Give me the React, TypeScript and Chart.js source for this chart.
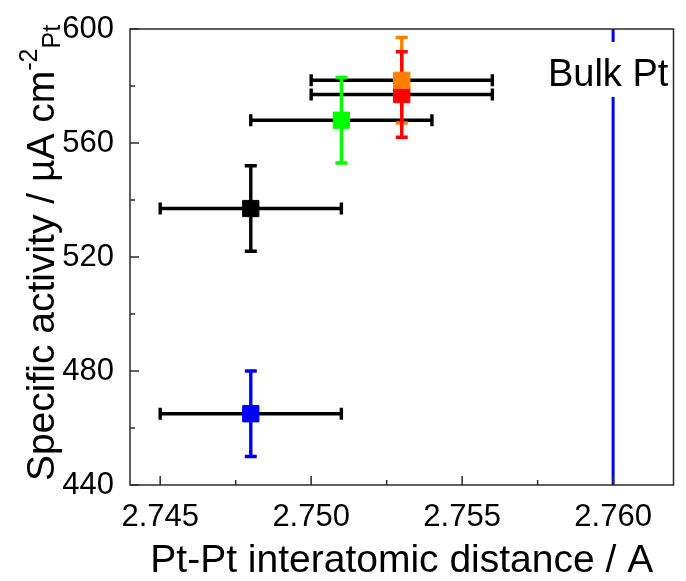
import React, { useEffect, useRef } from "react";
import { Chart, registerables } from "chart.js";

Chart.register(...registerables);

// ---- data ----
const seriesNames = ["S1", "S2", "S3", "S4", "S5"];
const xValues = [2.748, 2.748, 2.751, 2.753, 2.753];
const yValues = [537, 465, 568, 577, 582];
const xErrors = [0.003, 0.003, 0.003, 0.003, 0.003];
const yErrors = [15, 15, 15, 15, 15];
const seriesColors = ["#000000", "#0000ff", "#00ff00", "#ff0000", "#ff8000"];

const bulkX = 2.76;
const bulkLabel = "Bulk Pt";

const xMin = 2.744;
const xMax = 2.762;
const yMin = 440;
const yMax = 600;
const xTickValues = [2.745, 2.75, 2.755, 2.76];
const xTickLabels = ["2.745", "2.750", "2.755", "2.760"];
const xMinorTicks = [2.7475, 2.7525, 2.7575];
const yTickValues = [440, 480, 520, 560, 600];
const yTickLabels = ["440", "480", "520", "560", "600"];
const yMinorTicks = [460, 500, 540, 580];

const xTitle = "Pt-Pt interatomic distance / A";
const yTitleMain = "Specific activity / µA cm";
const yTitleSup = "-2";
const yTitleSub = "Pt";

const FONT = '"Liberation Sans", Arial, Helvetica, sans-serif';

const decorPlugin = {
  id: "decor",
  afterDatasetsDraw(chart: any) {
    const { ctx, chartArea: a, scales } = chart;
    const xs = scales.x;
    const ys = scales.y;
    ctx.save();
    // Bulk label with white box
    ctx.font = `38px ${FONT}`;
    const w = ctx.measureText(bulkLabel).width;
    const cx = xs.getPixelForValue(bulkX) - 5;
    ctx.fillStyle = "#ffffff";
    ctx.fillRect(cx - w / 2 - 2, a.top + 13, w + 4, 55);
    ctx.fillStyle = "#000000";
    ctx.textAlign = "center";
    ctx.textBaseline = "alphabetic";
    ctx.fillText(bulkLabel, cx, a.top + 57);

    // frame
    ctx.strokeStyle = "#2b2b2b";
    ctx.lineWidth = 1.5;
    ctx.strokeRect(a.left, a.top, a.right - a.left, a.bottom - a.top);

    // inward ticks
    ctx.beginPath();
    xTickValues.forEach((v) => {
      const p = xs.getPixelForValue(v);
      ctx.moveTo(p, a.bottom);
      ctx.lineTo(p, a.bottom - 9);
    });
    xMinorTicks.forEach((v) => {
      const p = xs.getPixelForValue(v);
      ctx.moveTo(p, a.bottom);
      ctx.lineTo(p, a.bottom - 5);
    });
    yTickValues.forEach((v) => {
      const p = ys.getPixelForValue(v);
      ctx.moveTo(a.left, p);
      ctx.lineTo(a.left + 9, p);
    });
    yMinorTicks.forEach((v) => {
      const p = ys.getPixelForValue(v);
      ctx.moveTo(a.left, p);
      ctx.lineTo(a.left + 5, p);
    });
    ctx.stroke();
    ctx.restore();
  },
  afterDraw(chart: any) {
    const { ctx, chartArea: a } = chart;
    ctx.save();
    const yc = (a.top + a.bottom) / 2 - 4;
    const x0 = 54;
    ctx.translate(x0, yc);
    ctx.rotate(-Math.PI / 2);
    ctx.fillStyle = "#000000";
    ctx.textAlign = "left";
    ctx.textBaseline = "alphabetic";
    const mainFont = `39px ${FONT}`;
    const smallFont = `25px ${FONT}`;
    ctx.font = mainFont;
    const wMain = ctx.measureText(yTitleMain).width;
    ctx.font = smallFont;
    const wSup = ctx.measureText(yTitleSup).width;
    const wSub = ctx.measureText(yTitleSub).width;
    const total = wMain + wSup + wSub;
    let pos = -total / 2;
    ctx.font = mainFont;
    ctx.fillText(yTitleMain, pos, 0);
    pos += wMain;
    ctx.font = smallFont;
    ctx.fillText(yTitleSup, pos, -17);
    pos += wSup;
    ctx.fillText(yTitleSub, pos, 6);
    ctx.restore();
  },
};

export default function App() {
  const canvasRef = useRef<HTMLCanvasElement | null>(null);

  useEffect(() => {
    const canvas = canvasRef.current;
    if (!canvas) return;

    const hBars = xValues.map((x, i) => ({
      label: seriesNames[i] + " x-err",
      data: [
        { x: x - xErrors[i], y: yValues[i] },
        { x: x + xErrors[i], y: yValues[i] },
      ],
      showLine: true,
      borderColor: "#000000",
      borderWidth: 3.4,
      pointStyle: "line",
      pointRotation: 90,
      pointRadius: 6,
      pointHoverRadius: 6,
      pointBorderWidth: 3.4,
      pointBorderColor: "#000000",
      order: 2,
    }));

    const vBars = xValues.map((x, i) => ({
      label: seriesNames[i] + " y-err",
      data: [
        { x, y: yValues[i] - yErrors[i] },
        { x, y: yValues[i] + yErrors[i] },
      ],
      showLine: true,
      borderColor: seriesColors[i],
      borderWidth: 3.4,
      pointStyle: "line",
      pointRotation: 0,
      pointRadius: 6,
      pointHoverRadius: 6,
      pointBorderWidth: 3.4,
      pointBorderColor: seriesColors[i],
      order: 1,
    }));

    const points = {
      label: "points",
      data: xValues.map((x, i) => ({ x, y: yValues[i] })),
      pointStyle: "rect",
      pointRadius: 11.5,
      pointHoverRadius: 11.5,
      backgroundColor: seriesColors,
      borderColor: seriesColors,
      pointBorderWidth: 1,
      showLine: false,
      order: 0,
    };

    const bulkLine = {
      label: bulkLabel,
      data: [
        { x: bulkX, y: yMin },
        { x: bulkX, y: yMax },
      ],
      showLine: true,
      borderColor: "#0000ff",
      borderWidth: 3,
      pointRadius: 0,
      order: 3,
    };

    const chart = new Chart(canvas, {
      type: "scatter",
      data: { datasets: [points, ...vBars, ...hBars, bulkLine] as any },
      plugins: [decorPlugin],
      options: {
        responsive: false,
        animation: false,
        events: [],
        layout: { padding: { left: 0, right: 5, top: 29, bottom: 0 } },
        plugins: {
          legend: { display: false },
          tooltip: { enabled: false },
        },
        scales: {
          x: {
            type: "linear",
            min: xMin,
            max: xMax,
            grid: { display: false },
            border: { display: false },
            afterBuildTicks: (axis: any) => {
              axis.ticks = xTickValues.map((v) => ({ value: v }));
            },
            afterFit: (axis: any) => {
              axis.height = 96;
              axis.paddingLeft = 0;
              axis.paddingRight = 0;
            },
            ticks: {
              autoSkip: false,
              maxRotation: 0,
              minRotation: 0,
              padding: 6,
              color: "#000000",
              font: { family: FONT, size: 31 },
              callback: (v: any, i: number) => xTickLabels[i],
            },
            title: {
              display: true,
              text: xTitle,
              color: "#000000",
              font: { family: FONT, size: 39, lineHeight: 1.0 },
              padding: { top: 0, bottom: 0 },
            },
          },
          y: {
            type: "linear",
            min: yMin,
            max: yMax,
            grid: { display: false },
            border: { display: false },
            afterBuildTicks: (axis: any) => {
              axis.ticks = yTickValues.map((v) => ({ value: v }));
            },
            afterFit: (axis: any) => {
              axis.width = 130;
              axis.paddingTop = 0;
              axis.paddingBottom = 0;
            },
            ticks: {
              padding: 8,
              color: "#000000",
              font: { family: FONT, size: 31 },
              callback: (v: any, i: number) => yTickLabels[i],
            },
          },
        },
      } as any,
    });

    return () => {
      chart.destroy();
    };
  }, []);

  return (
    <div
      style={{
        position: "fixed",
        left: 0,
        top: 0,
        width: 686,
        height: 581,
        background: "#ffffff",
      }}
    >
      <canvas
        ref={canvasRef}
        width={686}
        height={581}
        style={{ display: "block", width: 686, height: 581 }}
      />
    </div>
  );
}
